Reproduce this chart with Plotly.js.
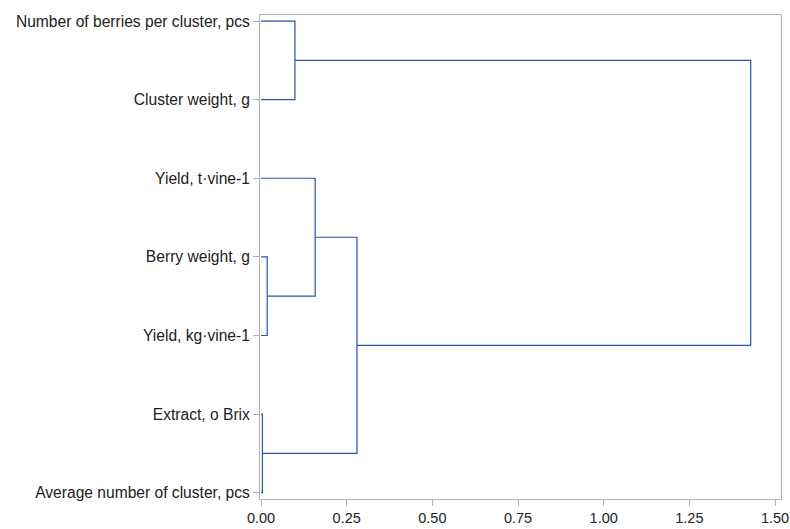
<!DOCTYPE html>
<html>
<head>
<meta charset="utf-8">
<script src="https://cdn.plot.ly/plotly-3.0.1.min.js"></script>
<style>body{margin:0;padding:0;background:#fff}#chart{width:790px;height:529px}</style>
</head>
<body>
<div id="chart"></div>
<script>
// Leaf labels, top to bottom
const leafLabels = [
  "Number of berries per cluster, pcs",
  "Cluster weight, g",
  "Yield, t\u00B7vine-1",
  "Berry weight, g",
  "Yield, kg\u00B7vine-1",
  "Extract, o Brix",
  "Average number of cluster, pcs"
];
// Merges: children (leaf "L<k>" or earlier node "N<k>") and merge height
const mergeLeft   = ["L0", "L3", "L2", "L5", "N2", "N0"];
const mergeRight  = ["L1", "L4", "N1", "L6", "N3", "N4"];
const mergeHeight = [0.099, 0.018, 0.158, 0.004, 0.280, 1.429];
const xTicks = [0, 0.25, 0.5, 0.75, 1.0, 1.25, 1.5];

const nodePos = [];
function pos(id) {
  const k = parseInt(id.slice(1));
  if (id[0] === "L") return {y: k, h: 0};
  return nodePos[k];
}
const traces = [];
for (let i = 0; i < mergeHeight.length; i++) {
  const a = pos(mergeLeft[i]), b = pos(mergeRight[i]);
  const h = mergeHeight[i];
  traces.push({
    type: "scatter", mode: "lines",
    x: [a.h, h, h, b.h], y: [a.y, a.y, b.y, b.y],
    line: {color: "#2d52a8", width: 1.2},
    hoverinfo: "skip", showlegend: false
  });
  nodePos.push({y: (a.y + b.y) / 2, h: h});
}

const layout = {
  width: 790, height: 529,
  margin: {l: 260, r: 9, t: 15, b: 30},
  paper_bgcolor: "#fff", plot_bgcolor: "#fff",
  font: {family: "Liberation Sans, Arial, sans-serif", size: 14, color: "#222"},
  xaxis: {
    range: [-0.003, 1.5175], tickvals: xTicks,
    ticktext: xTicks.map(v => v.toFixed(2)),
    showgrid: false, zeroline: false,
    showline: true, linecolor: "#b0b0b0", linewidth: 1, mirror: true,
    ticks: "outside", ticklen: 6, tickcolor: "#b0b0b0",
    tickfont: {size: 14.5, color: "#222"}
  },
  yaxis: {
    range: [6.08, -0.077],
    tickvals: leafLabels.map((_, i) => i), ticktext: leafLabels,
    showgrid: false, zeroline: false,
    showline: true, linecolor: "#b0b0b0", linewidth: 1, mirror: true,
    ticks: "outside", ticklen: 6, tickcolor: "#b0b0b0",
    tickfont: {size: 15.6, color: "#222"}
  }
};
Plotly.newPlot("chart", traces, layout, {displayModeBar: false, staticPlot: true});
</script>
</body>
</html>
